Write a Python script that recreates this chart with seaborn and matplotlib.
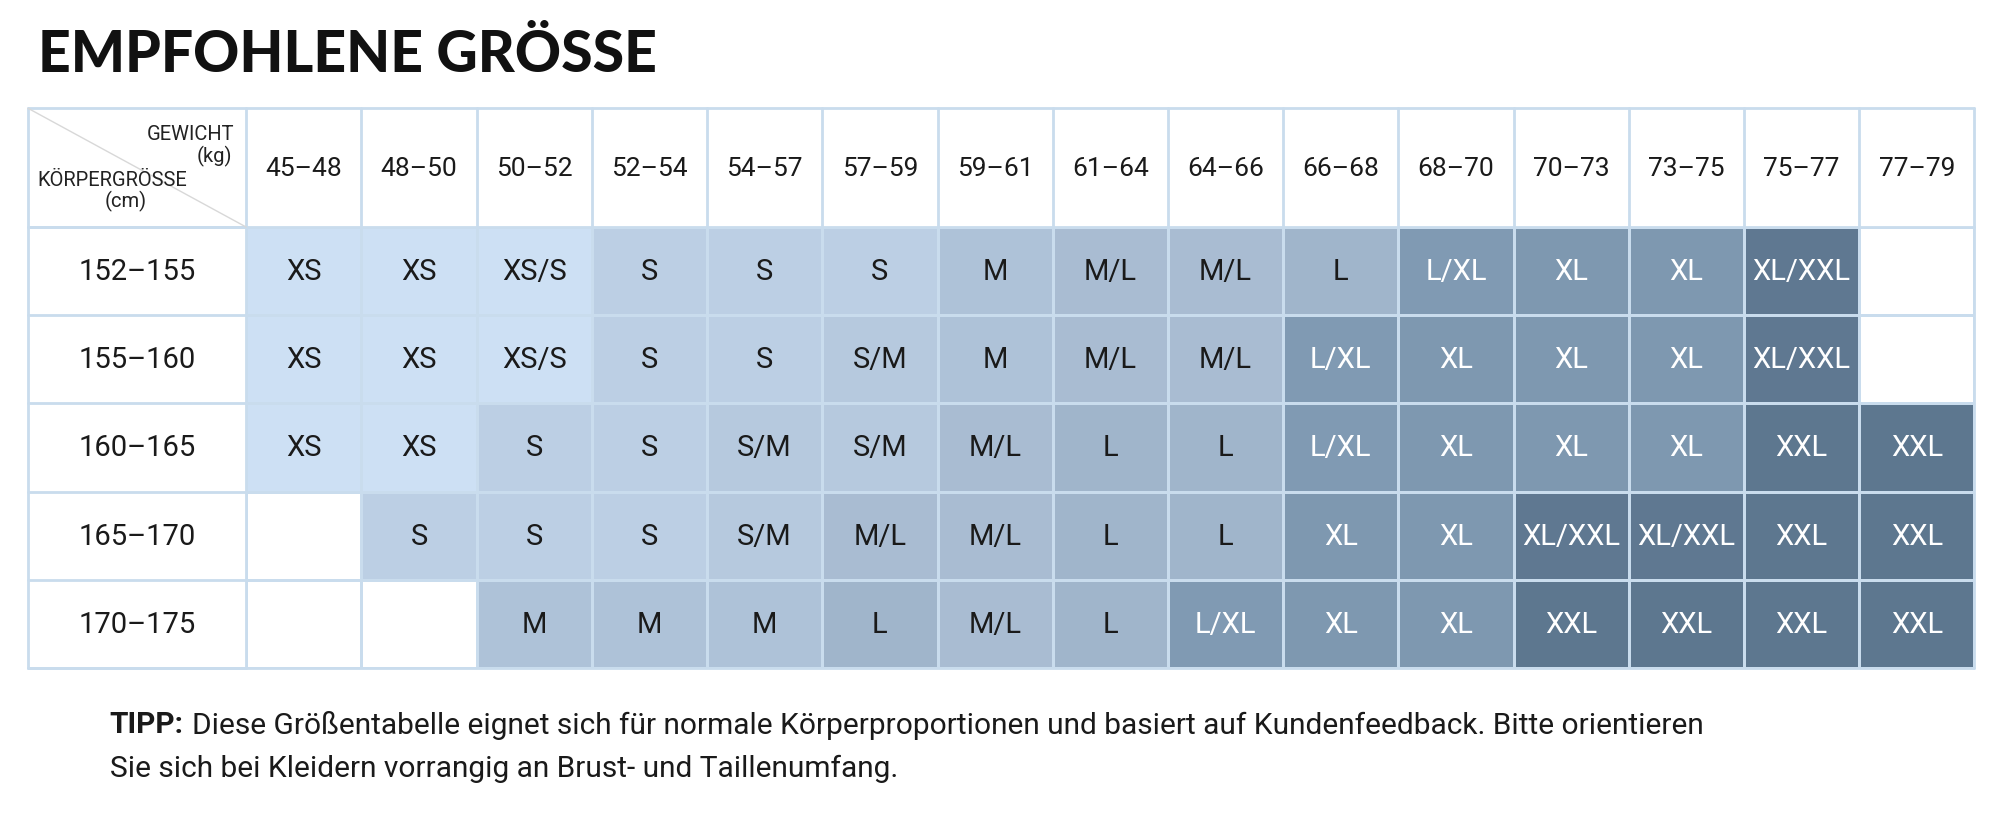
import numpy as np
import pandas as pd
import seaborn as sns
import matplotlib.pyplot as plt
from matplotlib.colors import ListedColormap

sns.set_theme(style="white")
plt.rcParams['font.family'] = ['Roboto', 'DejaVu Sans']

weights = ["45–48", "48–50", "50–52", "52–54", "54–57", "57–59", "59–61", "61–64",
           "64–66", "66–68", "68–70", "70–73", "73–75", "75–77", "77–79"]
heights = ["152–155", "155–160", "160–165", "165–170", "170–175"]
row_152 = ["XS", "XS", "XS/S", "S", "S", "S", "M", "M/L", "M/L", "L", "L/XL", "XL", "XL", "XL/XXL", ""]
row_155 = ["XS", "XS", "XS/S", "S", "S", "S/M", "M", "M/L", "M/L", "L/XL", "XL", "XL", "XL", "XL/XXL", ""]
row_160 = ["XS", "XS", "S", "S", "S/M", "S/M", "M/L", "L", "L", "L/XL", "XL", "XL", "XL", "XXL", "XXL"]
row_165 = ["", "S", "S", "S", "S/M", "M/L", "M/L", "L", "L", "XL", "XL", "XL/XXL", "XL/XXL", "XXL", "XXL"]
row_170 = ["", "", "M", "M", "M", "L", "M/L", "L", "L/XL", "XL", "XL", "XXL", "XXL", "XXL", "XXL"]
sizes = ["XS", "XS/S", "S", "S/M", "M", "M/L", "L", "L/XL", "XL", "XL/XXL", "XXL"]
size_colors = ["#cde0f4", "#cde0f4", "#bccfe4", "#b6c9de", "#aec2d8", "#a9bcd2",
               "#a0b5cb", "#809ab3", "#7e98b0", "#5f7891", "#5d778f"]

labels = [row_152, row_155, row_160, row_165, row_170]
codes = np.array([[sizes.index(s) if s else np.nan for s in r] for r in labels], dtype=float)
df = pd.DataFrame(codes, index=heights, columns=weights)

W, H = 1568, 640
fig = plt.figure(figsize=(20, 8.2), dpi=100)
fig.patch.set_facecolor("white")
ax = fig.add_axes([193 / W, 1 - 522 / H, (1548 - 193) / W, (522 - 178) / H])
grid_c = "#c9dced"
sns.heatmap(df, ax=ax, cmap=ListedColormap(size_colors), vmin=-0.5, vmax=len(sizes) - 0.5,
            cbar=False, linewidths=2, linecolor=grid_c, annot=False)
ax.set_xticks([]); ax.set_yticks([])
ax.set_xlabel(""); ax.set_ylabel("")

for i, r in enumerate(labels):
    for j, s in enumerate(r):
        if s:
            dark = sizes.index(s) >= sizes.index("L/XL")
            ax.text(j + 0.5, i + 0.5, s, ha="center", va="center", fontsize=21,
                    color="white" if dark else "#1a1a1a")

colw = 90.3
x0 = -171 / colw
hy = -93 / 69
lk = dict(color=grid_c, lw=2, clip_on=False)
ax.plot([x0, 15], [hy, hy], **lk)
ax.plot([x0, 15], [0, 0], **lk)
ax.plot([x0, 15], [5, 5], **lk)
ax.plot([x0, x0], [hy, 5], **lk)
for j in range(16):
    ax.plot([j, j], [hy, 0], **lk)
ax.plot([0, 0], [0, 5], **lk)
for i in range(6):
    ax.plot([x0, 0], [i, i], **lk)
ax.plot([15, 15], [0, 5], **lk)
ax.plot([x0, 0], [hy, 0], color="#d8d8d8", lw=1, clip_on=False)

for j, w in enumerate(weights):
    ax.text(j + 0.5, hy / 2, w, ha="center", va="center", fontsize=19, color="#1a1a1a", clip_on=False)
for i, h in enumerate(heights):
    ax.text(x0 / 2, i + 0.5, h, ha="center", va="center", fontsize=21, color="#1a1a1a", clip_on=False)
ax.text(-0.1, hy * 0.79, "GEWICHT", ha="right", va="center", fontsize=14.5, color="#222")
ax.text(-0.12, hy * 0.6, "(kg)", ha="right", va="center", fontsize=14.5, color="#222")
ax.text(x0 + 0.08, hy * 0.4, "KÖRPERGRÖSSE", ha="left", va="center", fontsize=14.5, color="#222")
ax.text(x0 + 0.85, hy * 0.22, "(cm)", ha="center", va="center", fontsize=14.5, color="#222")

fig.text(30 / W, 1 - 43 / H, "EMPFOHLENE GRÖSSE", fontsize=41, fontweight="black",
         family=["Lato", "DejaVu Sans"], va="center", ha="left", color="#111")
t = fig.text(86 / W, 1 - 566 / H, "TIPP:", fontsize=21.5, fontweight="bold",
             va="center", ha="left", color="#1a1a1a")
fig.canvas.draw()
bb = t.get_window_extent()
fig.text(bb.x1 / fig.bbox.width + 0.004, 1 - 566 / H,
         "Diese Größentabelle eignet sich für normale Körperproportionen und basiert auf Kundenfeedback. Bitte orientieren",
         fontsize=21.5, va="center", ha="left", color="#1a1a1a")
fig.text(86 / W, 1 - 600 / H, "Sie sich bei Kleidern vorrangig an Brust- und Taillenumfang.",
         fontsize=21.5, va="center", ha="left", color="#1a1a1a")

fig.savefig("out.png", dpi=100, facecolor="white")
